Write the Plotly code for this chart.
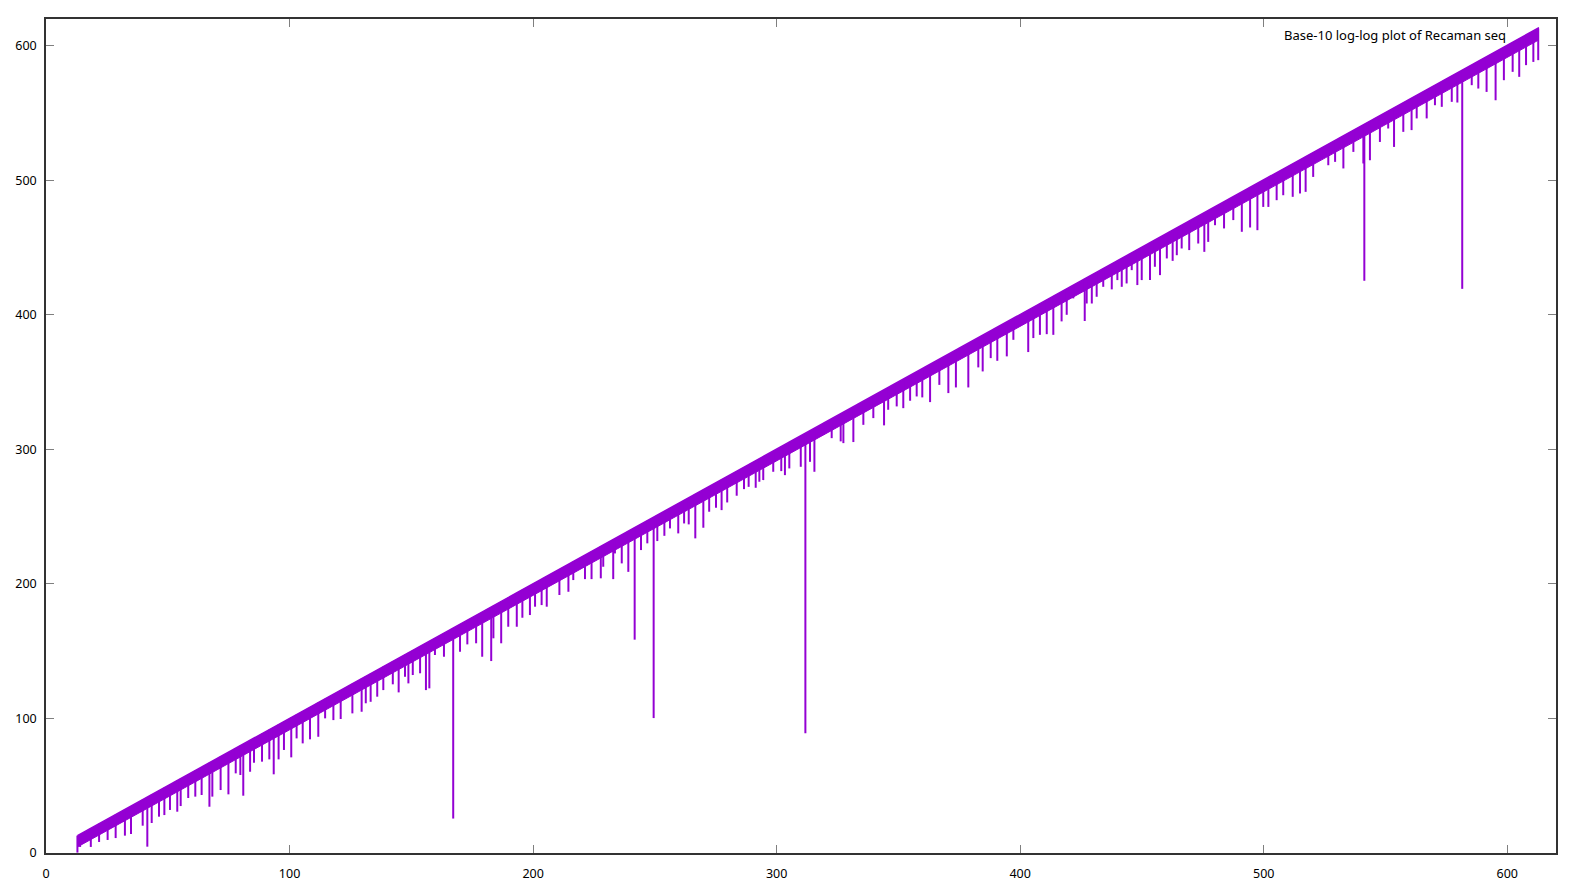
# =========================================================
# Recaman sequence plot (gnuplot look)
# =========================================================

import plotly.graph_objects as go


# =========================================================
# data
# =========================================================

# upper envelope and the solid lower edge of the band
band_x = [12.9, 613.0]
band_top = [12.9, 613.6]
band_low = [4.5, 604.5]

# downward spikes: x position and lowest value reached
spike_x = [
    12.9, 14.0, 18.4, 21.8, 25.3, 28.6, 32.4, 34.9, 39.7, 41.6,
    43.4, 46.4, 48.6, 50.9, 53.9, 55.3, 58.4, 61.3, 63.9, 67.1,
    68.3, 71.7, 74.9, 77.9, 79.8, 81.0, 83.8, 85.4, 88.7, 91.7,
    93.5, 95.5, 97.7, 100.7, 102.9, 105.4, 108.4, 111.8,
    114.6, 118.0, 121.0, 125.8, 129.6, 131.3, 133.3, 136.0, 138.5, 142.4,
    144.8, 147.4, 148.8, 150.6, 153.6, 156.0, 157.4, 159.7, 163.4, 167.2,
    170.0, 173.0, 176.6, 179.1, 182.8, 183.7, 186.9, 189.8, 193.3, 195.6,
    198.7, 200.8, 203.5, 205.6, 210.8, 214.5,
    216.5, 221.3, 224.0, 227.8, 228.8, 232.9, 233.6, 236.4, 239.1, 241.7,
    244.3, 246.9, 249.5, 251.0, 253.9, 256.2, 259.6, 262.0, 263.9, 266.6,
    269.9, 272.3, 275.1, 277.4, 279.7, 283.6, 286.6, 288.5, 291.4, 292.9,
    294.5, 298.6, 301.9, 303.4, 305.2, 309.9, 311.8, 313.7, 315.5,
    319.2, 322.6, 326.3, 327.4, 331.5, 335.6, 339.7, 344.1, 345.8, 349.3,
    352.0, 354.8, 357.5, 359.8, 363.0, 366.8, 370.5, 373.6, 378.7, 382.8,
    384.6, 387.9, 390.6, 394.5, 397.2, 403.3, 405.4, 408.1, 410.9, 413.6,
    417.0, 419.1,
    421.8, 426.5, 427.3, 429.4, 431.4, 434.1, 437.6, 439.9, 441.7, 443.7,
    445.8, 448.1, 449.9, 453.3, 455.3, 457.4, 460.2, 462.6, 464.3, 466.3,
    469.4, 473.1, 475.6, 477.2, 480.0, 483.7, 487.5, 491.0, 494.4, 497.4,
    499.8, 501.9, 505.3, 508.0, 511.9, 514.9, 517.2, 520.3,
    526.5, 529.3, 532.7, 536.8, 540.9, 541.3, 543.6, 547.7, 551.1, 553.5,
    557.3, 560.7, 562.8, 566.9, 570.3, 573.1, 577.2, 579.5, 581.5, 585.4,
    588.1, 591.5, 595.2, 598.6, 602.2, 604.9, 607.7, 610.7, 612.7,
]

spike_low = [
    0.3, 4.5, 4.5, 8.2, 9.7, 11.1, 12.9, 14.1, 20.3, 4.7,
    22.3, 27.0, 28.2, 32.0, 30.7, 34.9, 40.9, 41.9, 43.1, 34.4,
    41.9, 46.8, 43.6, 59.2, 58.0, 42.6, 60.4, 67.1, 67.9, 69.6,
    58.5, 69.6, 76.6, 71.1, 85.2, 81.5, 84.5, 86.4,
    100.1, 98.8, 99.6, 103.8, 105.0, 111.3, 112.4, 116.2, 121.1, 125.4,
    119.4, 131.0, 126.1, 132.3, 133.6, 121.1, 122.4, 147.2, 145.9, 25.6,
    149.6, 155.1, 155.9, 145.9, 142.7, 159.6, 155.9, 168.2, 168.2, 174.9,
    176.9, 183.1, 184.3, 183.1, 191.8, 194.2,
    202.9, 203.6, 203.6, 204.2, 212.8, 203.6, 222.7, 215.3, 209.0, 158.6,
    225.2, 230.2, 100.3, 231.9, 235.8, 241.3, 237.6, 245.0, 244.3, 233.9,
    241.8, 253.7, 256.7, 254.9, 260.6, 265.6, 270.5, 272.2, 271.5, 276.0,
    277.2, 283.4, 283.9, 280.9, 285.9, 287.1, 89.0, 290.8, 283.4,
    310.9, 308.4, 306.0, 304.7, 305.5, 318.3, 323.3, 317.9, 329.5, 332.0,
    330.7, 336.2, 339.4, 338.7, 335.2, 348.0, 341.9, 346.1, 346.1, 361.0,
    358.0, 367.9, 365.9, 369.2, 381.5, 372.4, 382.8, 385.2, 385.7, 385.2,
    395.2, 400.1,
    412.3, 395.5, 408.5, 408.5, 413.5, 420.9, 419.0, 425.9, 420.9, 423.4,
    433.3, 422.2, 425.9, 425.9, 435.8, 429.6, 442.0, 440.2, 444.4, 449.4,
    448.2, 453.1, 446.9, 454.3, 466.7, 464.3, 470.5, 461.8, 465.0, 463.0,
    480.3, 480.3, 485.3, 489.0, 487.8, 490.3, 491.5, 502.6,
    511.3, 513.8, 508.9, 521.2, 512.6, 425.4, 515.0, 528.6, 538.6, 524.9,
    536.1, 537.4, 546.1, 546.1, 555.9, 554.7, 558.4, 557.9, 419.4, 570.8,
    568.3, 565.8, 559.6, 574.5, 580.7, 577.0, 585.7, 588.1, 589.4,
]

series_name = "Base-10 log-log plot of Recaman seq"

x_ticks = [0, 100, 200, 300, 400, 500, 600]
y_ticks = [0, 100, 200, 300, 400, 500, 600]

axis_max = 620

purple = "#9400D3"


# =========================================================
# figure
# =========================================================

fig = go.Figure()

# solid part of the band
fig.add_trace(
    go.Scatter(
        x=band_x,
        y=band_low,
        mode="lines",
        line=dict(color=purple, width=1),
        hoverinfo="skip",
        showlegend=False
    )
)

fig.add_trace(
    go.Scatter(
        x=band_x,
        y=band_top,
        mode="lines",
        line=dict(color=purple, width=1.5),
        fill="tonexty",
        fillcolor=purple,
        name=series_name,
        showlegend=False
    )
)

# spikes, each from the upper envelope (a(n) ~ n) down to its low
seg_x = []
seg_y = []

for sx, low in zip(spike_x, spike_low):
    seg_x += [sx, sx, None]
    seg_y += [sx, low, None]

fig.add_trace(
    go.Scatter(
        x=seg_x,
        y=seg_y,
        mode="lines",
        line=dict(color=purple, width=2),
        hoverinfo="skip",
        showlegend=False
    )
)

# gnuplot key: text only, top right
fig.add_annotation(
    x=0.968,
    y=0.981,
    xref="paper",
    yref="paper",
    xanchor="right",
    yanchor="middle",
    text=series_name,
    showarrow=False,
    font=dict(family="Noto Sans", size=13, color="black")
)

axis_style = dict(
    range=[0, axis_max],
    automargin=False,
    showgrid=False,
    zeroline=False,
    showline=True,
    linecolor="#333333",
    linewidth=1.5,
    mirror="ticks",
    ticks="inside",
    ticklen=8,
    tickwidth=1,
    tickcolor="#7f7f7f",
    tickfont=dict(family="Noto Sans", size=12.5, color="black")
)

fig.update_xaxes(
    tickvals=x_ticks,
    ticklabelstandoff=8,
    **axis_style
)

fig.update_yaxes(
    tickvals=y_ticks,
    ticklabelstandoff=5,
    **axis_style
)

# the page body adds an 8px margin, so the figure is 16px smaller
fig.update_layout(
    width=1561,
    height=874,
    margin=dict(l=38, r=13, t=11, b=29),
    plot_bgcolor="white",
    paper_bgcolor="white",
    showlegend=False
)

fig.write_html("out.html")
